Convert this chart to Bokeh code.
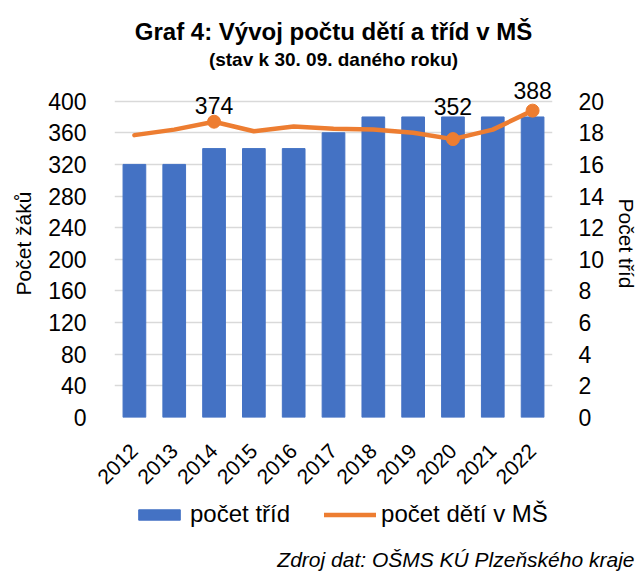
import math
from bokeh.plotting import figure
from bokeh.layouts import column
from bokeh.models import (Range1d, LinearAxis, Legend, LegendItem, Title, FactorRange,
                          FixedTicker)
from bokeh.core.properties import value
from bokeh.embed import file_html
from bokeh.resources import INLINE

years = ["2012", "2013", "2014", "2015", "2016", "2017", "2018", "2019", "2020", "2021", "2022"]
classes = [16, 16, 17, 17, 17, 18, 19, 19, 19, 19, 19]
children = [357, 364, 374, 362, 368, 365, 364, 360, 352, 364, 388]
labelled_years = ["2014", "2020", "2022"]
labelled_values = [374, 352, 388]
left_ticks = list(range(0, 401, 40))
right_ticks = list(range(0, 21, 2))

FONT = "Liberation Sans"
BLUE = "#4472C4"
ORANGE = "#ED7D31"

# ---------------- main chart ----------------
p = figure(width=641, height=495, x_range=FactorRange(*years),
           y_range=Range1d(0, 440), output_backend="svg", toolbar_location=None,
           min_border_left=114, min_border_right=76, min_border_top=69, min_border_bottom=78)
p.extra_y_ranges = {"tr": Range1d(0, 22)}
p.outline_line_color = None
p.background_fill_color = "white"
p.border_fill_color = "white"

p.vbar(x=years, top=classes, width=0.57, color=BLUE, y_range_name="tr")
p.line(x=years, y=children, line_color=ORANGE, line_width=4.5, line_cap="round", line_join="round")
p.scatter(x=labelled_years, y=labelled_values, size=13, color=ORANGE)
label_offsets = [-16, -33, -20]
p.text(x=labelled_years, y=labelled_values, text=[str(v) for v in labelled_values],
       text_align="center", text_baseline="alphabetic", y_offset=label_offsets,
       text_font=value(FONT), text_font_size="23px", text_color="#000000")

def style_axis(ax, size="23px"):
    ax.axis_line_color = None
    ax.major_tick_line_color = None
    ax.minor_tick_line_color = None
    ax.major_label_text_font = FONT
    ax.major_label_text_font_size = size
    ax.major_label_text_color = "#000000"
    ax.axis_label_text_font = FONT
    ax.axis_label_text_font_size = "21px"
    ax.axis_label_text_font_style = "normal"
    ax.axis_label_text_color = "#000000"

yl = p.yaxis[0]
yl.ticker = FixedTicker(ticks=left_ticks)
yl.axis_label = "Počet žáků"
style_axis(yl)
yl.major_label_standoff = 22
yl.axis_label_standoff = 10

yr = LinearAxis(y_range_name="tr", ticker=FixedTicker(ticks=right_ticks), axis_label="Počet tříd")
style_axis(yr)
yr.major_label_standoff = 20
yr.axis_label_standoff = 8
p.add_layout(yr, "right")

xa = p.xaxis[0]
style_axis(xa, "21px")
xa.major_label_orientation = math.pi / 4
xa.major_label_standoff = 24

p.xgrid.grid_line_color = None
p.ygrid.grid_line_color = "#D9D9D9"
p.ygrid.grid_line_width = 1.5
p.ygrid.ticker = FixedTicker(ticks=left_ticks)

p.add_layout(Title(text="(stav k 30. 09. daného roku)", align="center", offset=-13,
                   text_font=FONT, text_font_size="19px", text_font_style="bold",
                   text_color="#000000", standoff=0), "above")
p.add_layout(Title(text="Graf 4: Vývoj počtu dětí a tříd v MŠ", align="center", offset=-11,
                   text_font=FONT, text_font_size="24px", text_font_style="bold",
                   text_color="#000000", standoff=4), "above")

# ---------------- legend + source strip ----------------
p2 = figure(width=641, height=77, x_range=Range1d(0, 10), y_range=Range1d(0, 400),
            output_backend="svg", toolbar_location=None, x_axis_type=None, y_axis_type=None,
            min_border=0)
p2.outline_line_color = None
p2.grid.visible = False
p2.background_fill_color = "white"
p2.border_fill_color = "white"

idx = list(range(len(years)))
leg_bar = p2.vbar(x=idx, top=classes, width=0.57, color=BLUE, visible=False)
leg_line = p2.line(x=idx, y=children, line_color=ORANGE, line_width=4.5, line_cap="round",
                   visible=False)
legend = Legend(items=[LegendItem(label="počet tříd", renderers=[leg_bar]),
                       LegendItem(label="počet dětí v MŠ", renderers=[leg_line])],
                orientation="horizontal", location=(19, 15),
                label_text_font=FONT, label_text_font_size="24px", label_text_color="#000000",
                glyph_width=52, glyph_height=13, label_height=28, label_standoff=5, spacing=34,
                padding=0, margin=0, border_line_color=None, background_fill_alpha=0)
p2.add_layout(legend, "center")
p2.add_layout(Title(text="Zdroj dat: OŠMS KÚ Plzeňského kraje", align="right", offset=-82,
                    text_font=FONT, text_font_size="21px", text_font_style="italic",
                    text_color="#000000", standoff=4), "below")

layout = column(p, p2, spacing=0)
open("out.html", "w").write(file_html(layout, INLINE))
